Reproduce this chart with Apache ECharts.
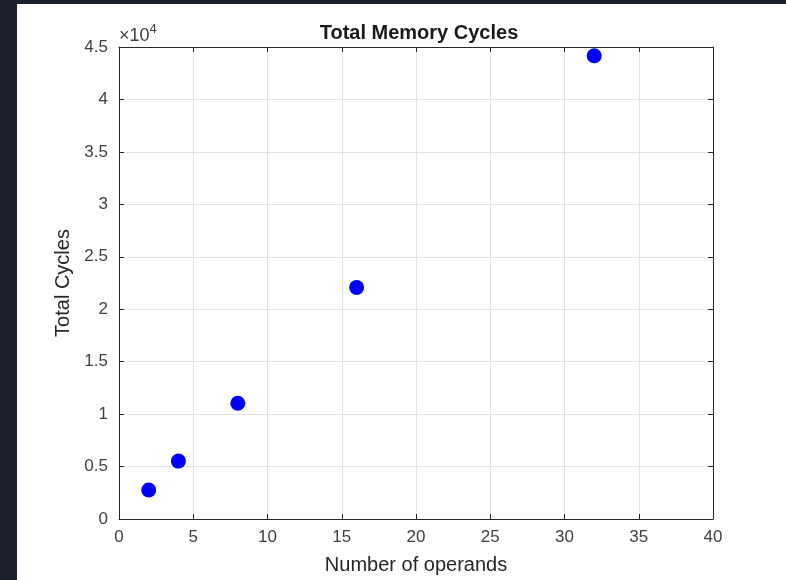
<!DOCTYPE html>
<html>
<head>
<meta charset="utf-8">
<style>
  html, body { margin: 0; padding: 0; background: #ffffff; }
  #chart { width: 786px; height: 580px; }
</style>
<script src="https://cdn.jsdelivr.net/npm/echarts@6/dist/echarts.min.js"></script>
</head>
<body>
<div id="chart"></div>
<script>
// Number of operands vs total memory cycles
const operands = [2, 4, 8, 16, 32];
const totalCycles = [2760, 5520, 11040, 22080, 44160];

const xTicks = { min: 0, max: 40, interval: 5 };
const yTicks = { min: 0, max: 45000, interval: 5000 };
const yScale = 10000;

const axisColor = '#262626';
const labelColor = '#404040';
const gridColor = '#e3e3e3';
const fontFamily = 'Liberation Sans, Arial, Helvetica, sans-serif';

const chart = echarts.init(document.getElementById('chart'), null, { renderer: 'canvas' });

const tickStyle = { show: true, inside: true, length: 5, lineStyle: { color: axisColor, width: 1 } };
const lineStyle = { show: true, onZero: false, lineStyle: { color: axisColor, width: 1 } };

const option = {
  backgroundColor: '#ffffff',
  animation: false,
  title: {
    text: 'Total Memory Cycles',
    left: 414,
    top: 18,
    textAlign: 'center',
    textStyle: { fontFamily, fontSize: 20, fontWeight: 'bold', color: '#1a1a1a' }
  },
  graphic: [
    { type: 'rect', shape: { x: 0, y: 0, width: 17, height: 580 }, style: { fill: '#1b202c' }, silent: true },
    { type: 'rect', shape: { x: 0, y: 0, width: 786, height: 4 }, style: { fill: '#1b202c' }, silent: true },
    {
      type: 'text', left: 119, top: 23, silent: true,
      style: {
        text: '{a|×10}{b|4}',
        rich: {
          a: { fontFamily, fontSize: 18, fill: labelColor, verticalAlign: 'bottom' },
          b: { fontFamily, fontSize: 13, fill: labelColor, verticalAlign: 'top', padding: [0, 0, 9, 0] }
        }
      }
    }
  ],
  grid: { left: 119, top: 47, right: 73, bottom: 61, containLabel: false },
  xAxis: [
    {
      type: 'value', position: 'bottom',
      min: xTicks.min, max: xTicks.max, interval: xTicks.interval,
      name: 'Number of operands', nameLocation: 'middle', nameGap: 36,
      nameTextStyle: { fontFamily, fontSize: 20, color: axisColor },
      axisLine: lineStyle, axisTick: tickStyle,
      axisLabel: { margin: 10, fontFamily, fontSize: 17, color: labelColor },
      splitLine: { show: true, lineStyle: { color: gridColor, width: 1 } }
    },
    {
      type: 'value', position: 'top',
      min: xTicks.min, max: xTicks.max, interval: xTicks.interval,
      axisLine: lineStyle, axisTick: tickStyle,
      axisLabel: { show: false }, splitLine: { show: false }
    }
  ],
  yAxis: [
    {
      type: 'value', position: 'left',
      min: yTicks.min, max: yTicks.max, interval: yTicks.interval,
      name: 'Total Cycles', nameLocation: 'middle', nameGap: 40,
      nameTextStyle: { fontFamily, fontSize: 20, color: axisColor },
      axisLine: lineStyle, axisTick: tickStyle,
      axisLabel: {
        margin: 11, fontFamily, fontSize: 17, color: labelColor,
        formatter: v => String(v / yScale)
      },
      splitLine: { show: true, lineStyle: { color: gridColor, width: 1 } }
    },
    {
      type: 'value', position: 'right',
      min: yTicks.min, max: yTicks.max, interval: yTicks.interval,
      axisLine: lineStyle, axisTick: tickStyle,
      axisLabel: { show: false }, splitLine: { show: false }
    }
  ],
  series: [
    {
      type: 'scatter',
      xAxisIndex: 0, yAxisIndex: 0,
      data: operands.map((x, i) => [x, totalCycles[i]]),
      symbol: 'circle',
      symbolSize: 15,
      itemStyle: { color: '#0000ff', opacity: 1 },
      z: 5
    }
  ]
};

chart.setOption(option);
</script>
</body>
</html>
